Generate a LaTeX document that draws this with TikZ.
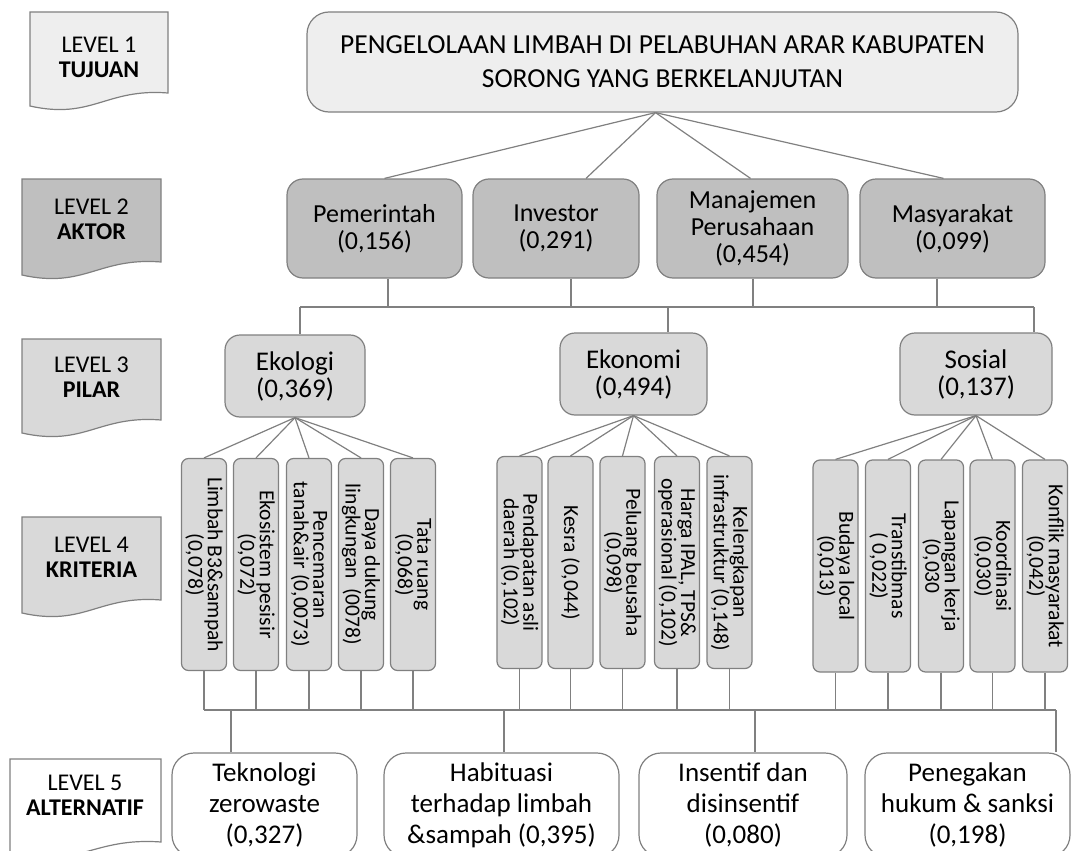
\documentclass[tikz,border=0pt]{standalone}
\usepackage{fontspec}
\setmainfont{Carlito}
\usetikzlibrary{calc}

\definecolor{lineg}{HTML}{808080}
\definecolor{goalf}{HTML}{EEEEEE}
\definecolor{aktorf}{HTML}{BFBFBF}
\definecolor{pilarf}{HTML}{D9D9D9}

% level label with wavy bottom: x1, x2, top, bottom, fill
\newcommand{\lvlbox}[5]{%
  \filldraw[lvlline, fill=#5] (#1,#3) -- (#2,#3) -- (#2,{#4-17})
    .. controls ({#2-0.45*(#2-#1)},{#4-22}) and ({#1+0.45*(#2-#1)},{#4+10}) .. (#1,{#4-4}) -- cycle;}

\begin{document}
\begin{tikzpicture}[x=1pt, y=-1pt,
  lvlline/.style={draw=lineg, line width=1.2pt},
  lvltxt/.style={align=center, font=\fontsize{24}{25}\selectfont},
  tujuan/.style={draw=lineg, line width=1.2pt, fill=goalf, rounded corners=22pt,
    minimum width=711pt, minimum height=100pt, align=center, font=\fontsize{27.5}{34}\selectfont},
  aktor/.style={draw=lineg, line width=1.2pt, fill=aktorf, rounded corners=16pt,
    minimum height=99pt, align=center, font=\fontsize{26}{27}\selectfont},
  pilar/.style={draw=lineg, line width=1.2pt, fill=pilarf, rounded corners=15pt,
    minimum height=82pt, align=center, font=\fontsize{27}{27}\selectfont},
  krit/.style={draw=lineg, line width=1.2pt, fill=pilarf, rounded corners=7pt, rotate=-90,
    minimum width=212pt, minimum height=45pt, inner sep=0pt, align=center,
    font=\fontsize{21.5}{19.5}\selectfont},
  alt/.style={draw=lineg, line width=1.2pt, fill=white, rounded corners=22pt,
    minimum height=104pt, align=center, font=\fontsize{27}{31}\selectfont},
  conn/.style={draw=lineg, line width=1.2pt}]

\useasboundingbox (0,0) rectangle (1076,851);
\clip (0,0) rectangle (1076,851);

% ---------- Left: level labels ----------
\lvlbox{30}{168}{12}{110}{goalf}
\lvlbox{22}{161}{179}{279}{aktorf}
\lvlbox{22}{161}{339}{437}{pilarf}
\lvlbox{22}{161}{517}{617}{pilarf}
\lvlbox{10}{161}{759}{859}{white}

\node[lvltxt] (lv1) at (99,57) {LEVEL 1\\\textbf{TUJUAN}};
\node[lvltxt] (lv2) at (91.5,219) {LEVEL 2\\\textbf{AKTOR}};
\node[lvltxt] (lv3) at (91.5,377) {LEVEL 3\\\textbf{PILAR}};
\node[lvltxt] (lv4) at (91.5,557) {LEVEL 4\\\textbf{KRITERIA}};
\node[lvltxt] (lv5) at (85,795) {LEVEL 5\\\textbf{ALTERNATIF}};

% ---------- Goal and actors ----------
\node[tujuan] (goal) at (662.5,62) {PENGELOLAAN LIMBAH DI PELABUHAN ARAR KABUPATEN\\SORONG YANG BERKELANJUTAN};

\node[aktor, minimum width=175pt] (a1) at (374.5,228.5) {Pemerintah\\(0,156)};
\node[aktor, minimum width=166pt] (a2) at (556,228.5) {Investor\\(0,291)};
\node[aktor, minimum width=191pt] (a3) at (752.5,228.5) {Manajemen\\Perusahaan\\(0,454)};
\node[aktor, minimum width=185pt] (a4) at (952.5,228.5) {Masyarakat\\(0,099)};

\draw[conn] ([xshift=-7pt]goal.south) -- ([xshift=10pt]a1.north);
\draw[conn] ([xshift=-7pt]goal.south) -- ([xshift=30pt]a2.north);
\draw[conn] ([xshift=-7pt]goal.south) -- ([xshift=-2pt]a3.north);
\draw[conn] ([xshift=-7pt]goal.south) -- ([xshift=-9pt]a4.north);

% ---------- Pillars ----------
\node[pilar, minimum width=140pt] (p1) at (295,376) {Ekologi\\(0,369)};
\node[pilar, minimum width=147pt] (p2) at (633.5,374) {Ekonomi\\(0,494)};
\node[pilar, minimum width=152pt] (p3) at (976,374) {Sosial\\(0,137)};

\coordinate (t1) at (388,307);
\coordinate (t2) at (571,307);
\coordinate (t3) at (753,307);
\coordinate (t4) at (937,307);
\coordinate (d1) at (300,307);
\coordinate (d2) at (668,307);
\coordinate (d3) at (1034,307);

\draw[conn] (d1) -- (d3);
\draw[conn] (a1.south -| t1) -- (t1);
\draw[conn] (a2.south -| t2) -- (t2);
\draw[conn] (a3.south -| t3) -- (t3);
\draw[conn] (a4.south -| t4) -- (t4);
\draw[conn] (d1) -- (d1 |- p1.north);
\draw[conn] (d2) -- (d2 |- p2.north);
\draw[conn] (d3) -- (d3 |- p3.north);

% ---------- Criteria ----------
\node[krit] (c1) at (204,564.5) {Limbah B3\&sampah\\(0,078)};
\node[krit] (c2) at (256,564.5) {Ekosistem pesisir\\(0,072)};
\node[krit] (c3) at (309,564.5) {Pencemaran\\tanah\&air (0,0073)};
\node[krit] (c4) at (361,564.5) {Daya dukung\\lingkungan~~(0078)};
\node[krit] (c5) at (413,564.5) {Tata ruang\\(0,068)};

\node[krit] (e1) at (519.5,562.5) {Pendapatan asli\\daerah (0,102)};
\node[krit] (e2) at (570.5,562.5) {Kesra (0,044)};
\node[krit] (e3) at (622.5,562.5) {Peluang beusaha\\(0,098)};
\node[krit] (e4) at (677,562.5) {Harga IPAL, TPS\&\\operasional (0,102)};
\node[krit] (e5) at (729.5,562.5) {Kelengkapan\\infrastruktur (0,148)};

\node[krit] (s1) at (835.5,566) {Budaya local\\(0,013)};
\node[krit] (s2) at (888,566) {Transtibmas\\( 0,022)};
\node[krit] (s3) at (941,566) {Lapangan kerja\\(0,030};
\node[krit] (s4) at (992.5,566) {Koordinasi\\(0,030)};
\node[krit] (s5) at (1045,566) {Konflik masyarakat\\(0,042)};

\foreach \k in {c1,c2,c3,c4,c5}
  \draw[conn] (p1.south) -- (\k.west);
\foreach \k in {e1,e2,e3,e4,e5}
  \draw[conn] (p2.south) -- (\k.west);
\foreach \k in {s1,s2,s3,s4,s5}
  \draw[conn] (p3.south) -- (\k.west);

% ---------- Alternatives ----------
\node[alt, minimum width=185pt] (alt1) at (264.5,805) {Teknologi\\zerowaste\\(0,327)};
\node[alt, minimum width=235pt] (alt2) at (501.5,805) {Habituasi\\terhadap limbah\\\&sampah (0,395)};
\node[alt, minimum width=208pt] (alt3) at (743,805) {Insentif dan\\disinsentif\\(0,080)};
\node[alt, minimum width=205pt] (alt4) at (967.5,805) {Penegakan\\hukum \& sanksi\\(0,198)};

\coordinate (bL) at (204,710);
\coordinate (bR) at (1056,710);
\coordinate (j1) at (231,710);
\coordinate (j2) at (504,710);
\coordinate (j3) at (755,710);

\draw[conn] (bL) -- (bR);
\foreach \k in {c1,c2,c3,c4,c5,e1,e2,e3,e4,e5,s1,s2,s3,s4,s5}
  \draw[conn] (\k.east) -- (\k.east |- bL);
\draw[conn] (j1) -- (j1 |- alt1.north);
\draw[conn] (j2) -- (j2 |- alt2.north);
\draw[conn] (j3) -- (j3 |- alt3.north);
\draw[conn] (bR) -- (bR |- alt4.north);

\end{tikzpicture}
\end{document}
